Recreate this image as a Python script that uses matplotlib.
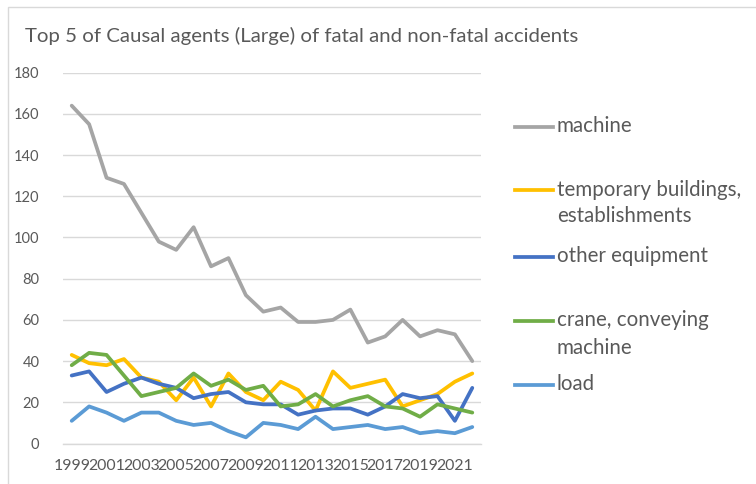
import matplotlib
matplotlib.use("Agg")
import matplotlib.pyplot as plt
from matplotlib.lines import Line2D
from matplotlib.patches import Rectangle

plt.rcParams['font.family'] = ['Lato', 'DejaVu Sans']

years = list(range(1999, 2023))
title = "Top 5 of Causal agents (Large) of fatal and non-fatal accidents"

series_names = ["machine", "temporary buildings,\nestablishments", "other equipment",
                "crane, conveying\nmachine", "load"]
colors = ["#A5A5A5", "#FFC000", "#4472C4", "#70AD47", "#5B9BD5"]

machine = [164, 155, 129, 126, 112, 98, 94, 105, 86, 90, 72, 64, 66, 59, 59, 60, 65, 49, 52, 60, 52, 55, 53, 40]
temporary = [43, 39, 38, 41, 32, 30, 21, 32, 18, 34, 25, 21, 30, 26, 16, 35, 27, 29, 31, 18, 21, 24, 30, 34]
other_equipment = [33, 35, 25, 29, 32, 29, 27, 22, 24, 25, 20, 19, 19, 14, 16, 17, 17, 14, 18, 24, 22, 23, 11, 27]
crane = [38, 44, 43, 33, 23, 25, 27, 34, 28, 31, 26, 28, 18, 19, 24, 18, 21, 23, 18, 17, 13, 19, 17, 15]
load = [11, 18, 15, 11, 15, 15, 11, 9, 10, 6, 3, 10, 9, 7, 13, 7, 8, 9, 7, 8, 5, 6, 5, 8]

all_series = [machine, temporary, other_equipment, crane, load]
yticks = list(range(0, 181, 20))

W, H = 756, 484
fig = plt.figure(figsize=(W / 100, H / 100), dpi=100)
fig.patch.set_facecolor("white")

# chart border
fig.add_artist(Rectangle((8 / W, -0.05), 1.2, 1 - 7 / H + 0.05, transform=fig.transFigure,
                         fill=False, edgecolor="#D9D9D9", linewidth=1.0))

ax = fig.add_axes([63 / W, 1 - 443.5 / H, (481 - 63) / W, (443.5 - 72.7) / H])
x = list(range(len(years)))
for vals, c in zip(all_series, colors):
    ax.plot(x, vals, color=c, linewidth=2.7, solid_joinstyle="round", solid_capstyle="round", zorder=3)

ax.set_xlim(-0.5, len(years) - 0.5)
ax.set_ylim(0, 180)
ax.set_yticks(yticks)
ax.set_yticklabels([str(v) for v in yticks])
ax.grid(axis="y", color="#D9D9D9", linewidth=1.0, zorder=0)
ax.set_xticks(x[::2])
ax.set_xticklabels([str(y) for y in years[::2]])
ax.tick_params(axis="both", length=0, colors="#595959")
ax.tick_params(axis="y", pad=17, labelsize=10.5)
ax.tick_params(axis="x", pad=11, labelsize=11.4)
for s in ["top", "right", "left"]:
    ax.spines[s].set_visible(False)
ax.spines["bottom"].set_color("#D9D9D9")
ax.spines["bottom"].set_linewidth(1.0)

fig.text(25 / W, 1 - 36 / H, title, fontsize=14.7, color="#595959", va="center", ha="left")

# legend
legend_y = [127, 190, 257, 321, 385]
for name, c, ly in zip(series_names, colors, legend_y):
    fig.add_artist(Line2D([515 / W, 553 / W], [1 - ly / H, 1 - ly / H], transform=fig.transFigure,
                          color=c, linewidth=2.7))
    for i, part in enumerate(name.split("\n")):
        fig.text(557 / W, 1 - (ly + 5.5 + 27 * i) / H, part, fontsize=14.8, color="#595959",
                 va="baseline", ha="left")

fig.savefig("out.png", dpi=100)
